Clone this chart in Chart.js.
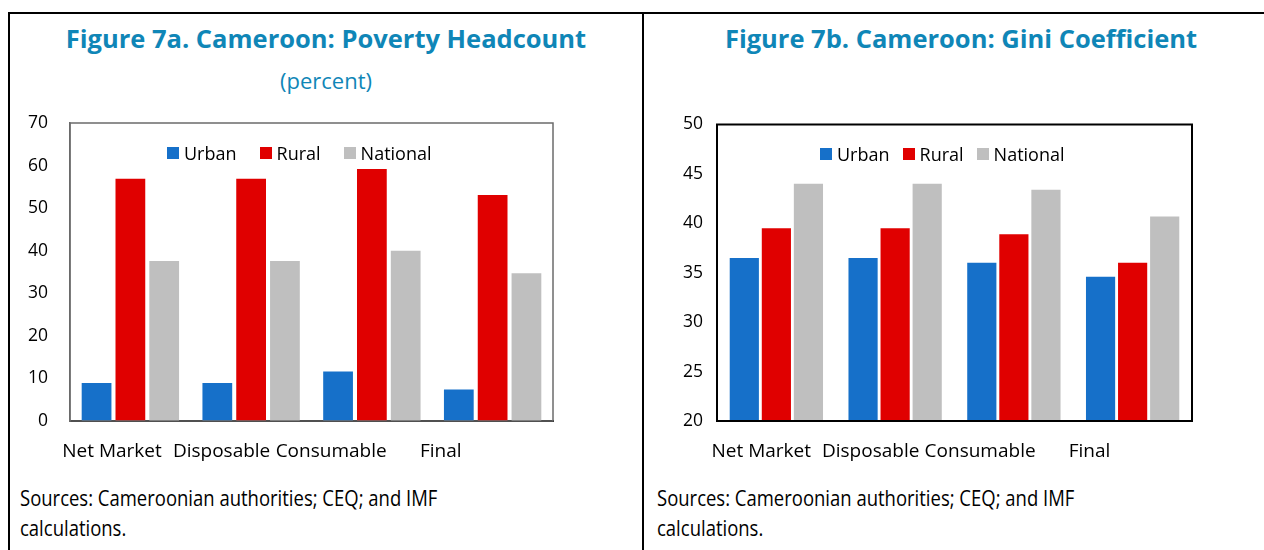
<!DOCTYPE html>
<html>
<head>
<meta charset="utf-8">
<script src="https://cdn.jsdelivr.net/npm/chart.js@4/dist/chart.umd.min.js"></script>
<style>
  body { margin: 0; width: 1264px; height: 550px; background: #fff; position: relative; overflow: hidden; font-family: "Open Sans", sans-serif; }
  .line { position: absolute; background: #000; }
  .title { position: absolute; color: #0f86b7; font-weight: bold; font-size: 25.5px; text-align: center; white-space: nowrap; }
  .sub { position: absolute; color: #0f86b7; font-size: 22px; text-align: center; }
  .src { position: absolute; color: #000; font-size: 21px; line-height: 30px; white-space: nowrap; transform: scaleX(0.88); transform-origin: left top; }
  .box { position: absolute; }
  .legend { position: absolute; display: flex; align-items: center; font-size: 18px; color: #000; height: 20px; white-space: nowrap; }
  .legend span.sw { display: inline-block; width: 12px; height: 12px; margin-right: 5px; }
  .legend span.it { display: inline-flex; align-items: center; }
</style>
</head>
<body>
<div class="line" style="left:8px;top:12px;width:1256px;height:2px"></div>
<div class="line" style="left:8px;top:12px;width:2px;height:538px"></div>
<div class="line" style="left:642px;top:12px;width:2px;height:538px"></div>

<div class="title" style="left:10px;width:632px;top:21px">Figure 7a. Cameroon: Poverty Headcount</div>
<div class="sub" style="left:10px;width:632px;top:65px">(percent)</div>
<div class="title" style="left:644px;width:634px;top:21px">Figure 7b. Cameroon: Gini Coefficient</div>

<div class="box" style="left:10px;top:110px;width:630px;height:370px"><canvas id="povChart"></canvas></div>
<div class="box" style="left:650px;top:110px;width:614px;height:370px"><canvas id="giniChart"></canvas></div>
<div class="legend" id="povLegend" style="left:167px;top:143px"></div>
<div class="legend" id="giniLegend" style="left:820px;top:144px"></div>

<div class="src" style="left:20px;top:483px">Sources: Cameroonian authorities; CEQ; and IMF<br>calculations.</div>
<div class="src" style="left:657px;top:483px">Sources: Cameroonian authorities; CEQ; and IMF<br>calculations.</div>

<script>
const categories = ['Net Market', 'Disposable', 'Consumable', 'Final'];
const seriesNames = ['Urban', 'Rural', 'National'];

// Figure 7a - poverty headcount (percent)
const povUrban = [8.9, 8.9, 11.6, 7.4];
const povRural = [56.9, 56.9, 59.2, 53.1];
const povNational = [37.6, 37.6, 40.0, 34.7];
const povTicks = [0, 10, 20, 30, 40, 50, 60, 70];

// Figure 7b - gini
const giniUrban = [36.5, 36.5, 36.0, 34.6];
const giniRural = [39.5, 39.5, 38.9, 36.0];
const giniNational = [44.0, 44.0, 43.4, 40.7];
const giniTicks = [20, 25, 30, 35, 40, 45, 50];

const colors = ['#1670c9', '#e00000', '#bfbfbf'];
const fontName = '"Open Sans", sans-serif';

// frame round the plot area
const frame = {
  id: 'frame',
  afterDraw(chart, args, opts) {
    const a = chart.chartArea;
    const ctx = chart.ctx;
    ctx.save();
    ctx.strokeStyle = opts.color;
    ctx.lineWidth = opts.width;
    ctx.strokeRect(a.left, a.top, a.right - a.left, a.bottom - a.top);
    ctx.restore();
  }
};

// html legend (the source puts it inside the plot, in one row)
function buildLegend(id, gap) {
  const el = document.getElementById(id);
  seriesNames.forEach((name, i) => {
    const it = document.createElement('span');
    it.className = 'it';
    if (i < seriesNames.length - 1) it.style.marginRight = gap + 'px';
    it.innerHTML = '<span class="sw" style="background:' + colors[i] + '"></span>' + name;
    el.appendChild(it);
  });
}

function noPad(s) {
  s.paddingTop = 0;
  s.paddingBottom = 0;
  s.paddingLeft = 0;
  s.paddingRight = 0;
}

function makeChart(id, values, ticks, cfg) {
  var myChart = Chart.getChart(id);
  if (myChart != null) {
    myChart.destroy();
  }
  const ctx = document.getElementById(id).getContext('2d');

  return new Chart(ctx, {
    type: 'bar',
    plugins: [frame],
    data: {
      labels: categories,
      datasets: values.map((v, i) => ({
        label: seriesNames[i],
        data: v,
        backgroundColor: colors[i],
        borderWidth: 0,
        categoryPercentage: cfg.catPct,
        barPercentage: cfg.barPct
      }))
    },
    options: {
      responsive: true,
      maintainAspectRatio: false,
      animation: false,
      layout: { padding: cfg.padding },
      plugins: {
        frame: { color: cfg.frameColor, width: cfg.frameWidth },
        tooltip: { enabled: false },
        legend: { display: false }
      },
      scales: {
        x: {
          weight: 0,
          grid: { display: false, drawTicks: false },
          border: { display: true, color: '#000', width: 2 },
          ticks: { display: false },
          afterFit: s => { s.height = 0; noPad(s); }
        },
        // labels sit on their own evenly spaced stops, like in the source
        xl: {
          type: 'linear',
          position: 'bottom',
          offset: false,
          weight: 1,
          min: cfg.labMin,
          max: cfg.labMax,
          grid: { display: false, drawTicks: false, offset: false },
          border: { display: false },
          afterBuildTicks: s => { s.ticks = categories.map((c, i) => ({ value: i })); },
          ticks: {
            autoSkip: false,
            maxRotation: 0,
            padding: 19,
            color: '#000',
            font: { family: fontName, size: 19 },
            callback: v => categories[v]
          },
          afterFit: s => { s.height = 59; noPad(s); }
        },
        y: {
          min: ticks[0],
          max: ticks[ticks.length - 1],
          grid: { display: false, drawTicks: false },
          border: { display: true, color: cfg.frameColor, width: cfg.frameWidth },
          afterBuildTicks: s => { s.ticks = ticks.map(t => ({ value: t })); },
          ticks: {
            padding: cfg.yPad,
            color: '#000',
            font: { family: fontName, size: 17.5 }
          },
          afterFit: s => { s.width = cfg.yWidth; noPad(s); }
        }
      }
    }
  });
}

makeChart('povChart', [povUrban, povRural, povNational], povTicks, {
  catPct: 0.84, barPct: 0.88,
  padding: { top: 13, right: 87, bottom: 0, left: 0 },
  frameColor: '#6b6b6b', frameWidth: 1.5,
  labMin: -0.3835, labMax: 4.025,
  yPad: 22, yWidth: 60
});

makeChart('giniChart', [giniUrban, giniRural, giniNational], giniTicks, {
  catPct: 0.81, barPct: 0.91,
  padding: { top: 14.5, right: 72, bottom: 0, left: 0 },
  frameColor: '#000', frameWidth: 2,
  labMin: -0.404, labMax: 3.936,
  yPad: 14, yWidth: 67
});

buildLegend('povLegend', 23);
buildLegend('giniLegend', 13);
</script>
</body>
</html>
